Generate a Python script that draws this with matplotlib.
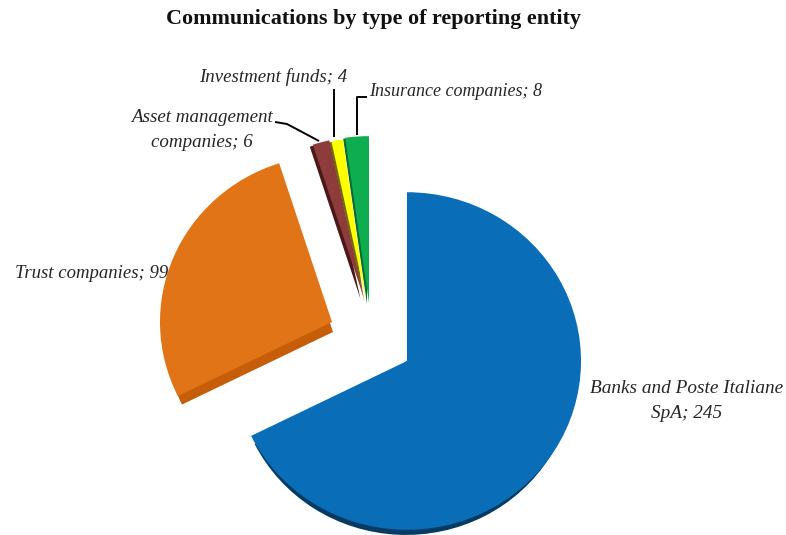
import matplotlib
matplotlib.use("Agg")
import matplotlib.pyplot as plt
from matplotlib.patches import Wedge

W, H = 786, 535
Y_SQUASH = 0.97  # the disc is seen slightly from above

# Chart content
categories = ["Banks and Poste Italiane\nSpA", "Trust companies", "Asset management\ncompanies",
              "Investment funds", "Insurance companies"]
values = [245, 99, 6, 4, 8]
face_colors = ["#0A6DB8", "#E07416", "#8E3B3B", "#FFFF00", "#0EAE50"]
side_colors = ["#053A63", "#C65D08", "#4A1A1A", "#6E6E00", "#0A6B35"]

# Layout, in pixels from the top-left corner of the figure
apex = [(407, 361), (332, 322), (363.5, 297), (366, 300), (369, 303)]
radii = [174, 172, 165, 167, 172]
depth = [(-1, 10), (1, 10), (-3, 2), (-2, 1), (-2, 1)]
side_trim = [5, 3.5, 0, 0, 0]
label_xy = [(687, 401), (92, 274), (202, 130), (273, 77), (456, 92)]
label_size = [13.9, 13.5, 13.7, 13.6, 13.0]
leaders = [None, None,
           [(275, 122), (287, 124), (319, 141)],
           [(334, 89), (334, 137)],
           [(367, 97), (357, 97), (357, 135)]]


def px(x, y):
    """Convert figure pixels (origin top-left) to data coordinates."""
    return x, (H - y) / Y_SQUASH


fig = plt.figure(figsize=(W / 100, H / 100), dpi=100, facecolor="white")
ax = fig.add_axes([0, 0, 1, 1])

wedges, _ = ax.pie(values, startangle=90, counterclock=False, colors=face_colors)
ax.set_aspect("auto")
ax.set_xlim(0, W)
ax.set_ylim(0, H / Y_SQUASH)
ax.axis("off")

for i, w in enumerate(wedges):
    cx, cy = px(*apex[i])
    w.set_center((cx, cy))
    w.set_radius(radii[i])
    w.set_zorder(3)

    # Extruded side of the slice; the large slice keeps it inside its own angular range
    sx, sy = px(apex[i][0] + depth[i][0], apex[i][1] + depth[i][1])
    side = Wedge((sx, sy), radii[i] - side_trim[i], w.theta1, w.theta2,
                 facecolor=side_colors[i], edgecolor="none", zorder=2)
    ax.add_patch(side)
    if i == 0:
        limit = Wedge((cx, cy), radii[i] + 20, w.theta1, w.theta2, transform=ax.transData)
        side.set_clip_path(limit)

serif = ["Liberation Serif", "DejaVu Serif"]
for i, (name, value) in enumerate(zip(categories, values)):
    x, y = px(*label_xy[i])
    ax.text(x, y, f"{name}; {value}", family=serif, style="italic", fontsize=label_size[i],
            color="#262626", ha="center", va="center", linespacing=1.55, zorder=5)
    if leaders[i]:
        pts = [px(*p) for p in leaders[i]]
        ax.plot([p[0] for p in pts], [p[1] for p in pts], color="black", lw=1.4, zorder=4,
                solid_capstyle="butt", solid_joinstyle="round")

x, y = px(374, 19)
ax.text(x, y, "Communications by type of reporting entity", family=serif, weight="bold",
        fontsize=15.9, color="#111111", ha="center", va="center")

fig.savefig("out.png", dpi=100, facecolor="white")
